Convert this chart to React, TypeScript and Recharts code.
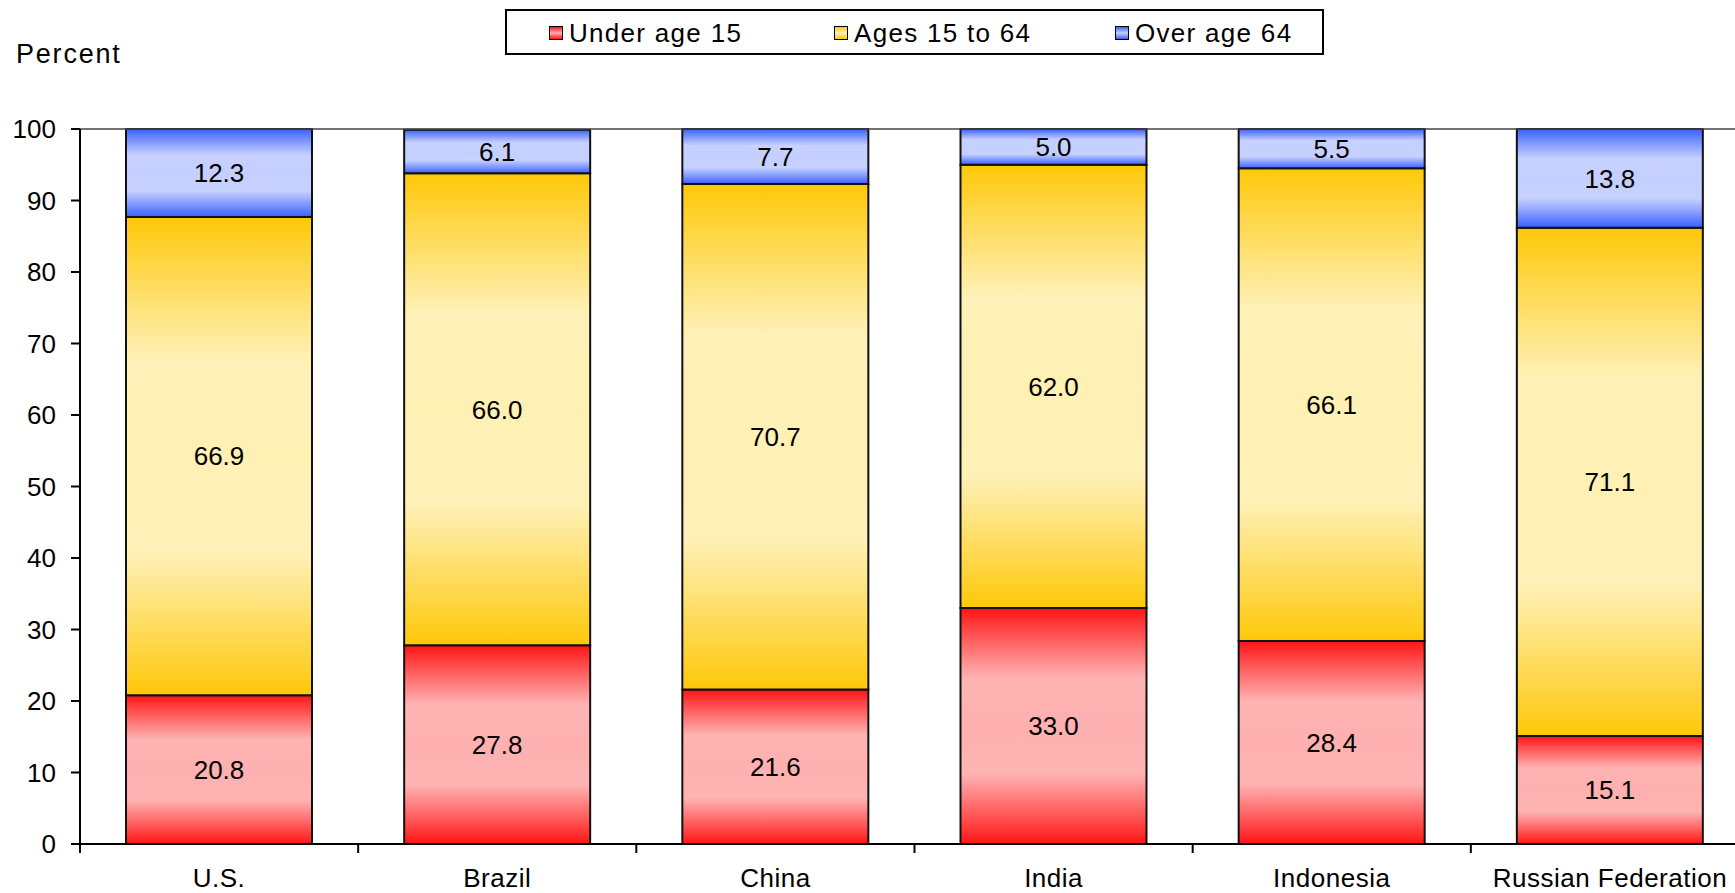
import React from "react"
import { BarChart, Bar, XAxis, YAxis, LabelList, ReferenceLine } from "recharts"

const countries = ["U.S.", "Brazil", "China", "India", "Indonesia", "Russian Federation"]
const underAge15 = [20.8, 27.8, 21.6, 33.0, 28.4, 15.1]
const ages15to64 = [66.9, 66.0, 70.7, 62.0, 66.1, 71.1]
const overAge64 = [12.3, 6.1, 7.7, 5.0, 5.5, 13.8]
const yTicks = [0, 10, 20, 30, 40, 50, 60, 70, 80, 90, 100]

const series = [
  { key: "under", name: "Under age 15", dark: "#ff1414", light: "#ffb0b0" },
  { key: "mid", name: "Ages 15 to 64", dark: "#ffc808", light: "#fff0b4" },
  { key: "over", name: "Over age 64", dark: "#3a60ff", light: "#c4cfff" },
]

const data = countries.map((name, i) => ({
  name,
  under: underAge15[i],
  mid: ages15to64[i],
  over: overAge64[i],
}))

const FONT = "'Liberation Sans', Arial, sans-serif"

function CountryTick(props: any) {
  const { x, y, payload } = props
  const half = payload && payload.offset ? payload.offset : 139
  return (
    <g>
      <line x1={x - half} y1={y} x2={x - half} y2={y + 9} stroke="#000" strokeWidth={2} />
      <text x={x} y={y + 43} textAnchor="middle" fontSize={26} letterSpacing={0.5} fill="#000" fontFamily={FONT}>
        {payload.value}
      </text>
    </g>
  )
}

function Legendbox() {
  const lefts = [42, 327, 608]
  return (
    <div
      style={{
        position: "absolute",
        left: 505,
        top: 9,
        width: 815,
        height: 42,
        border: "2px solid #000",
        background: "#fff",
      }}
    >
      {series.map((s, i) => (
        <div
          key={s.key}
          style={{
            position: "absolute",
            left: lefts[i],
            top: 1,
            height: 42,
            display: "flex",
            alignItems: "center",
            whiteSpace: "nowrap",
          }}
        >
          <span
            style={{
              display: "inline-block",
              width: 12,
              height: 12,
              border: "1.5px solid #000",
              background: `linear-gradient(${s.dark}, ${s.light} 50%, ${s.dark})`,
              marginRight: 6,
            }}
          />
          <span style={{ fontSize: 26, letterSpacing: 1.3, color: "#000" }}>{s.name}</span>
        </div>
      ))}
    </div>
  )
}

export default function App() {
  return (
    <div
      style={{
        position: "fixed",
        left: 0,
        top: 0,
        width: 1735,
        height: 893,
        overflow: "hidden",
        background: "#fff",
        fontFamily: FONT,
      }}
    >
      <div style={{ position: "absolute", left: 16, top: 39, fontSize: 27, letterSpacing: 1.8, color: "#000" }}>
        Percent
      </div>
      <Legendbox />
      <BarChart
        width={1760}
        height={893}
        data={data}
        margin={{ top: 129, right: 11, left: 0, bottom: 0 }}
        style={{ position: "absolute", left: 0, top: 0 }}
      >
        <defs>
          {series.map((s) => (
            <linearGradient key={s.key} id={"grad-" + s.key} x1="0" y1="0" x2="0" y2="1">
              <stop offset="0%" stopColor={s.dark} />
              <stop offset="30%" stopColor={s.light} stopOpacity={0.95} />
              <stop offset="50%" stopColor={s.light} />
              <stop offset="70%" stopColor={s.light} stopOpacity={0.95} />
              <stop offset="100%" stopColor={s.dark} />
            </linearGradient>
          ))}
        </defs>
        <XAxis
          dataKey="name"
          height={49}
          tickLine={false}
          tickSize={0}
          tickMargin={0}
          axisLine={{ stroke: "#000", strokeWidth: 2 }}
          tick={<CountryTick />}
          interval={0}
        />
        <YAxis
          width={80}
          domain={[0, 100]}
          ticks={yTicks}
          interval={0}
          tickSize={9}
          tickMargin={15}
          axisLine={{ stroke: "#000", strokeWidth: 2 }}
          tickLine={{ stroke: "#000", strokeWidth: 2 }}
          tick={{ fontSize: 26, fill: "#000", fontFamily: FONT }}
        />
        <ReferenceLine y={100} stroke="#444" strokeWidth={1.5} />
        {series.map((s) => (
          <Bar
            key={s.key}
            dataKey={s.key}
            name={s.name}
            stackId="a"
            barSize={186}
            fill={`url(#grad-${s.key})`}
            stroke="#111"
            strokeWidth={2}
            isAnimationActive={false}
          >
            <LabelList
              dataKey={s.key}
              position="center"
              formatter={(v: any) => Number(v).toFixed(1)}
              style={{ fontSize: 26, fill: "#000", fontFamily: FONT }}
            />
          </Bar>
        ))}
      </BarChart>
    </div>
  )
}
